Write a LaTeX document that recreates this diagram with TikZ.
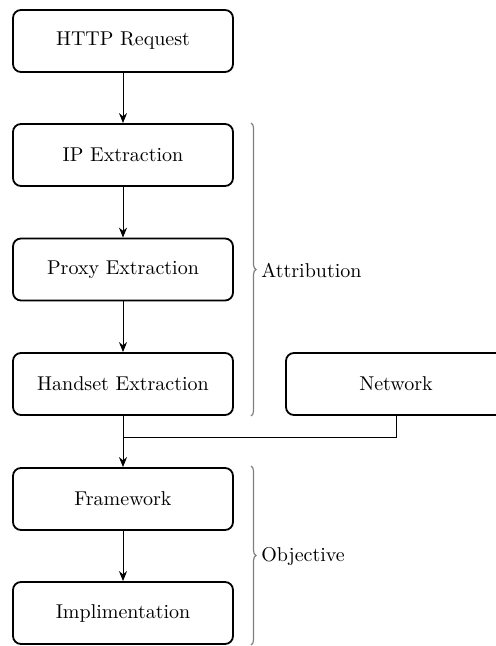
\documentclass[tikz,border=0pt]{standalone}
\usetikzlibrary{decorations.pathreplacing,arrows.meta}
\begin{document}
\begin{tikzpicture}[x=0.5pt,y=-0.5pt,
  box/.style={draw, line width=0.9pt, rounded corners=4pt, minimum width=110pt, minimum height=31pt, inner sep=0pt},
  conn/.style={line width=0.5pt, -{Stealth[length=5pt,width=4pt]}},
  plain/.style={line width=0.5pt},
  brc/.style={decorate, decoration={brace, amplitude=2.5pt}, draw=gray, line width=0.6pt},
  lbl/.style={anchor=west, inner sep=0pt}]
\useasboundingbox (0,0) rectangle (496,646);
\node[box] (http) at (123,41) {HTTP Request};
\node[box] (ip) at (123,155) {IP Extraction};
\node[box] (proxy) at (123,269.5) {Proxy Extraction};
\node[box] (hand) at (123,384) {Handset Extraction};
\node[box] (net) at (396,384) {Network};
\node[box] (frame) at (123,499) {Framework};
\node[box] (impl) at (123,613) {Implimentation};
\coordinate (j) at (123,437);
\draw[conn] (http) -- (ip);
\draw[conn] (ip) -- (proxy);
\draw[conn] (proxy) -- (hand);
\draw[conn] (hand) -- (frame);
\draw[plain] (net.south) |- (j);
\draw[conn] (frame) -- (impl);
\coordinate (a1) at (251,123);
\coordinate (a2) at (251,416);
\coordinate (o1) at (251,466);
\coordinate (o2) at (251,645);
\draw[brc] (a1) -- (a2);
\draw[brc] (o1) -- (o2);
\node[lbl] (attr) at (261,270) {Attribution};
\node[lbl] (obj) at (261,556) {Objective};
\end{tikzpicture}
\end{document}
